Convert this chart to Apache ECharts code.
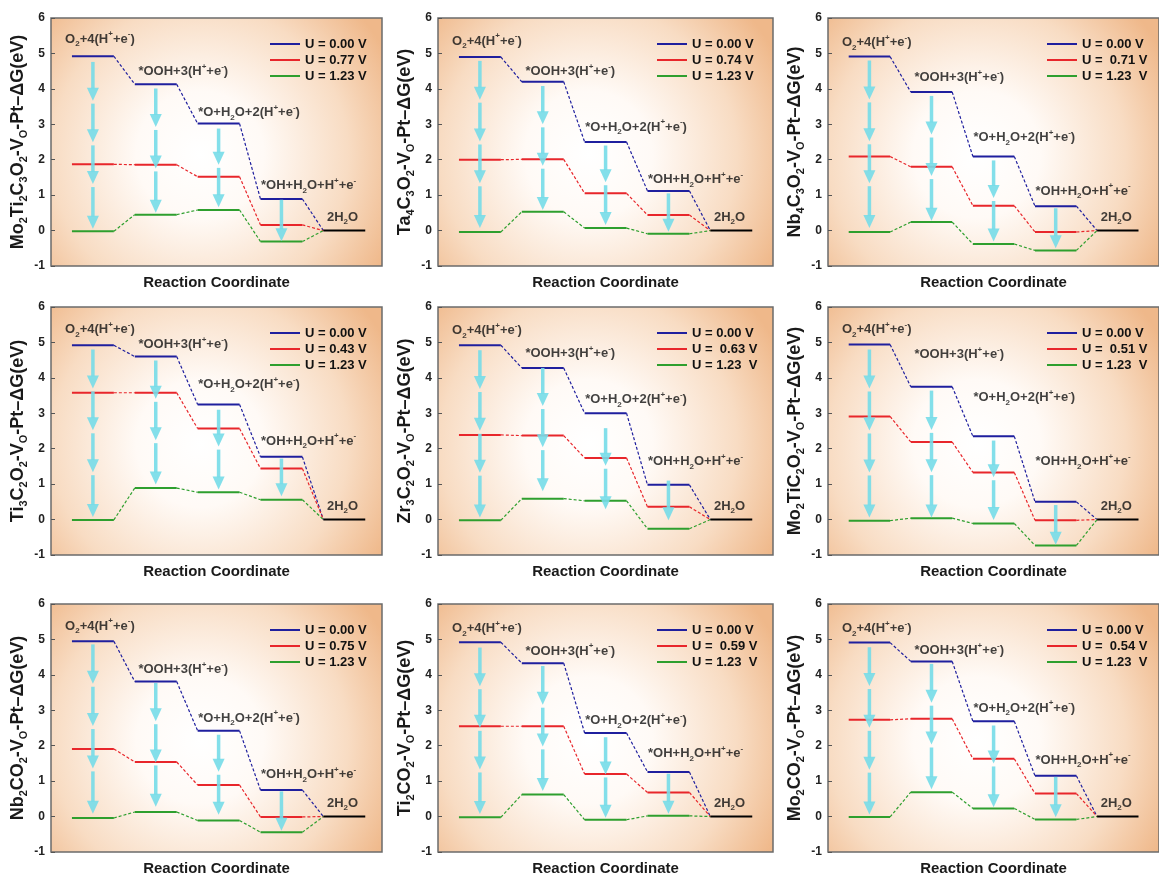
<!DOCTYPE html>
<html>
<head>
<meta charset="utf-8">
<title>OER free energy diagrams</title>
<script src="https://cdn.jsdelivr.net/npm/echarts@6/dist/echarts.min.js"></script>
<style>
  html, body { margin: 0; padding: 0; background: #fff; }
  #chart { width: 1159px; height: 883px; }
</style>
</head>
<body>
<div id="chart"></div>
<script>
// reaction coordinate: level k spans [stepStarts[k], stepStarts[k] + 2]
const stepStarts = [1, 4, 7, 10, 13];

const formulas = ['Mo2Ti2C3O2', 'Ta4C3O2', 'Nb4C3O2', 'Ti3C2O2', 'Zr3C2O2', 'Mo2TiC2O2', 'Nb2CO2', 'Ti2CO2', 'Mo2CO2'];

const blueNames = ['U = 0.00 V', 'U = 0.00 V', 'U = 0.00 V', 'U = 0.00 V', 'U = 0.00 V', 'U = 0.00 V', 'U = 0.00 V', 'U = 0.00 V', 'U = 0.00 V'];
const redNames = ['U = 0.77 V', 'U = 0.74 V', 'U =  0.71 V', 'U = 0.43 V', 'U =  0.63 V', 'U =  0.51 V', 'U = 0.75 V', 'U =  0.59 V', 'U =  0.54 V'];
const greenNames = ['U = 1.23 V', 'U = 1.23 V', 'U = 1.23  V', 'U = 1.23 V', 'U = 1.23  V', 'U = 1.23  V', 'U = 1.23 V', 'U = 1.23  V', 'U = 1.23  V'];

// ΔG (eV) of the four intermediates; 2H2O is 0 in every panel
const dG_U0 = [
  [4.92, 4.13, 3.02, 0.89],
  [4.90, 4.20, 2.50, 1.12],
  [4.91, 3.91, 2.09, 0.69],
  [4.92, 4.60, 3.25, 1.77],
  [4.92, 4.28, 3.00, 0.98],
  [4.94, 3.75, 2.35, 0.50],
  [4.95, 3.81, 2.42, 0.75],
  [4.92, 4.33, 2.36, 1.26],
  [4.91, 4.38, 2.69, 1.15]
];
const dG_Ulim = [
  [1.87, 1.86, 1.52, 0.16],
  [2.00, 2.01, 1.05, 0.44],
  [2.09, 1.80, 0.70, -0.04],
  [3.58, 3.58, 2.57, 1.44],
  [2.39, 2.37, 1.74, 0.36],
  [2.91, 2.19, 1.33, -0.02],
  [1.91, 1.54, 0.89, -0.01],
  [2.55, 2.55, 1.20, 0.68],
  [2.73, 2.76, 1.63, 0.65]
];
const dG_U123 = [
  [-0.02, 0.45, 0.58, -0.31],
  [-0.04, 0.53, 0.07, -0.09],
  [-0.04, 0.24, -0.38, -0.56],
  [-0.01, 0.89, 0.77, 0.56],
  [-0.02, 0.59, 0.53, -0.26],
  [-0.03, 0.04, -0.11, -0.73],
  [-0.04, 0.13, -0.11, -0.44],
  [-0.02, 0.62, -0.09, 0.02],
  [-0.01, 0.69, 0.23, -0.08]
];

// cyan arrows: top and bottom ends (eV)
const arrowTop = [
  [4.76, 4.01, 2.88, 0.87],
  [4.79, 4.08, 2.40, 1.05],
  [4.80, 3.80, 1.98, 0.63],
  [4.80, 4.49, 3.10, 1.72],
  [4.78, 4.28, 2.58, 1.10],
  [4.80, 3.64, 2.23, 0.41],
  [4.86, 3.77, 2.31, 0.71],
  [4.77, 4.25, 2.24, 1.21],
  [4.78, 4.31, 2.57, 1.12]
];
const arrowBottom = [
  [0.05, 0.50, 0.66, -0.30],
  [0.07, 0.58, 0.16, -0.03],
  [0.07, 0.28, -0.31, -0.50],
  [0.07, 0.99, 0.85, 0.66],
  [0.06, 0.80, 0.29, -0.02],
  [0.06, 0.06, -0.01, -0.71],
  [0.08, 0.28, 0.05, -0.40],
  [0.07, 0.72, -0.03, 0.08],
  [0.06, 0.77, 0.26, -0.02]
];

// step label anchors (reaction coordinate, eV)
const labelX = [0.65, 4.15, 7.0, 10.0, 13.15];
const labelY = [
  [5.40, 4.48, 3.33, 1.27, 0.38],
  [5.35, 4.49, 2.92, 1.44, 0.38],
  [5.30, 4.32, 2.62, 1.11, 0.38],
  [5.37, 4.94, 3.81, 2.21, 0.38],
  [5.34, 4.68, 3.38, 1.63, 0.38],
  [5.36, 4.66, 3.45, 1.63, 0.38],
  [5.38, 4.15, 2.78, 1.19, 0.38],
  [5.30, 4.67, 2.71, 1.78, 0.38],
  [5.30, 4.69, 3.06, 1.59, 0.38]
];
const stepText = [
  '{t|O}{d|2}{t|+4(H}{u|+}{t|+e}{u|-}{t|)}',
  '{t|*OOH+3(H}{u|+}{t|+e}{u|-}{t|)}',
  '{t|*O+H}{d|2}{t|O+2(H}{u|+}{t|+e}{u|-}{t|)}',
  '{t|*OH+H}{d|2}{t|O+H}{u|+}{t|+e}{u|-}',
  '{t|2H}{d|2}{t|O}'
];

const FONT = '"Liberation Sans", Arial, Helvetica, sans-serif';
const BLUE = '#1f1f9e';
const RED = '#e8262b';
const GREEN = '#2e9f2e';
const ARROW = 'rgba(118, 220, 232, 0.9)';

const colLeft = [51, 438, 828];
const colWidth = [331, 335, 335];
const rowTop = [18, 307, 604];
const plotH = 248;
const PX_PER_UNIT = 20.95;

function formulaRich(f) {
  return f.replace(/([A-Za-z]+)|(\d+)/g, (m, letters, digits) =>
    letters ? '{n|' + letters + '}' : '{s|' + digits + '}');
}

function levelData(vals) {
  const out = [];
  vals.forEach((v, k) => {
    out.push([stepStarts[k], v], [stepStarts[k] + 2, v], [stepStarts[k] + 2, '-']);
  });
  return out;
}

function connectorData(vals) {
  const full = vals.concat([0]);
  const out = [];
  for (let k = 0; k < vals.length; k++) {
    out.push([stepStarts[k] + 2, full[k]], [stepStarts[k + 1], full[k + 1]], [stepStarts[k + 1], '-']);
  }
  return out;
}

function renderArrow(params, api) {
  const top = api.coord([api.value(0), api.value(1)]);
  const bottom = api.coord([api.value(0), api.value(2)]);
  const x = top[0];
  const span = bottom[1] - top[1];
  const n = Math.max(1, Math.round(span / 41));
  const seg = span / n;
  const children = [];
  for (let k = 0; k < n; k++) {
    const y0 = top[1] + k * seg;
    const tip = y0 + seg - (k < n - 1 ? 3 : 0);
    const base = tip - 13;
    children.push({
      type: 'line',
      shape: { x1: x, y1: y0, x2: x, y2: base + 1 },
      style: { stroke: ARROW, lineWidth: 3.5 }
    });
    children.push({
      type: 'polygon',
      shape: { points: [[x - 6, base], [x + 6, base], [x, tip]] },
      style: { fill: ARROW }
    });
  }
  return { type: 'group', children };
}

const grids = [], xAxes = [], yAxes = [], legends = [], series = [];

formulas.forEach((f, i) => {
  const col = i % 3;
  const left = colLeft[col];
  const width = colWidth[col];
  const top = rowTop[Math.floor(i / 3)];

  grids.push({
    left, top, width, height: plotH,
    show: true,
    borderColor: '#6b6b6b',
    borderWidth: 1.5,
    backgroundColor: {
      type: 'radial', x: 0.45, y: 0.55, r: 0.85,
      colorStops: [
        { offset: 0, color: '#ffffff' },
        { offset: 0.3, color: '#fffaf6' },
        { offset: 0.7, color: '#f8dcc3' },
        { offset: 1, color: '#efb88a' }
      ]
    }
  });

  xAxes.push({
    gridIndex: i, type: 'value', min: 0, max: width / PX_PER_UNIT,
    axisLine: { show: false }, axisTick: { show: false },
    axisLabel: { show: false }, splitLine: { show: false },
    name: 'Reaction Coordinate', nameLocation: 'middle', nameGap: 9,
    nameTextStyle: { fontFamily: FONT, fontSize: 15, fontWeight: 'bold', color: '#1a1a1a' }
  });

  yAxes.push({
    gridIndex: i, type: 'value', min: -1, max: 6, interval: 1,
    axisLine: { show: false }, splitLine: { show: false },
    axisTick: { show: true, inside: true, length: 4, lineStyle: { color: '#555', width: 1 } },
    axisLabel: { fontFamily: FONT, fontSize: 12, fontWeight: 'bold', color: '#222', margin: 6 },
    name: formulaRich(f) + '{n|-V}{s|O}{n|-Pt–ΔG(eV)}',
    nameLocation: 'middle', nameRotate: 90, nameGap: 22,
    nameTextStyle: {
      rich: {
        n: { fontFamily: FONT, fontSize: 18, fontWeight: 'bold', color: '#1a1a1a', lineHeight: 22 },
        s: { fontFamily: FONT, fontSize: 11, fontWeight: 'bold', color: '#1a1a1a', lineHeight: 11, verticalAlign: 'bottom' }
      }
    }
  });

  legends.push({
    data: [blueNames[i], redNames[i], greenNames[i]],
    orient: 'vertical',
    left: left + 214, top: top + 14,
    icon: 'rect', itemWidth: 30, itemHeight: 2, itemGap: 2,
    selectedMode: false,
    textStyle: { fontFamily: FONT, fontSize: 13, fontWeight: 'bold', color: '#111', lineHeight: 14 }
  });

  const sets = [[blueNames[i], dG_U0[i], BLUE], [redNames[i], dG_Ulim[i], RED], [greenNames[i], dG_U123[i], GREEN]];
  sets.forEach(([name, vals, color]) => {
    series.push({
      type: 'line', name, xAxisIndex: i, yAxisIndex: i,
      data: levelData(vals), symbol: 'none', silent: true, animation: false,
      color, lineStyle: { color, width: 2 }, z: 3
    });
    series.push({
      type: 'line', name: name + ' path', xAxisIndex: i, yAxisIndex: i,
      data: connectorData(vals), symbol: 'none', silent: true, animation: false,
      lineStyle: { color, width: 1.2, type: [3, 2] }, z: 2
    });
  });

  // final state 2H2O
  series.push({
    type: 'line', name: '2H2O', xAxisIndex: i, yAxisIndex: i,
    data: [[stepStarts[4], 0], [stepStarts[4] + 2, 0]],
    symbol: 'none', silent: true, animation: false,
    lineStyle: { color: '#000', width: 2 }, z: 3
  });

  series.push({
    type: 'custom', name: 'arrows', xAxisIndex: i, yAxisIndex: i,
    data: arrowTop[i].map((t, k) => [stepStarts[k] + 1, t, arrowBottom[i][k]]),
    encode: { x: 0, y: [1, 2] },
    renderItem: renderArrow, silent: true, animation: false, z: 4
  });

  series.push({
    type: 'scatter', name: 'steps', xAxisIndex: i, yAxisIndex: i,
    data: labelX.map((x, k) => [x, labelY[i][k]]),
    symbolSize: 1, itemStyle: { color: 'transparent' },
    silent: true, animation: false, z: 5,
    label: {
      show: true, position: 'right', distance: 0,
      formatter: p => stepText[p.dataIndex],
      rich: {
        t: { fontFamily: FONT, fontSize: 13, fontWeight: 'bold', color: '#111', lineHeight: 18 },
        d: { fontFamily: FONT, fontSize: 8, fontWeight: 'bold', color: '#111', lineHeight: 8, verticalAlign: 'bottom' },
        u: { fontFamily: FONT, fontSize: 8, fontWeight: 'bold', color: '#111', lineHeight: 8, verticalAlign: 'top' }
      }
    }
  });
});

const chart = echarts.init(document.getElementById('chart'), null, { renderer: 'canvas' });
chart.setOption({
  animation: false,
  backgroundColor: '#ffffff',
  grid: grids,
  xAxis: xAxes,
  yAxis: yAxes,
  legend: legends,
  series
});
</script>
</body>
</html>
